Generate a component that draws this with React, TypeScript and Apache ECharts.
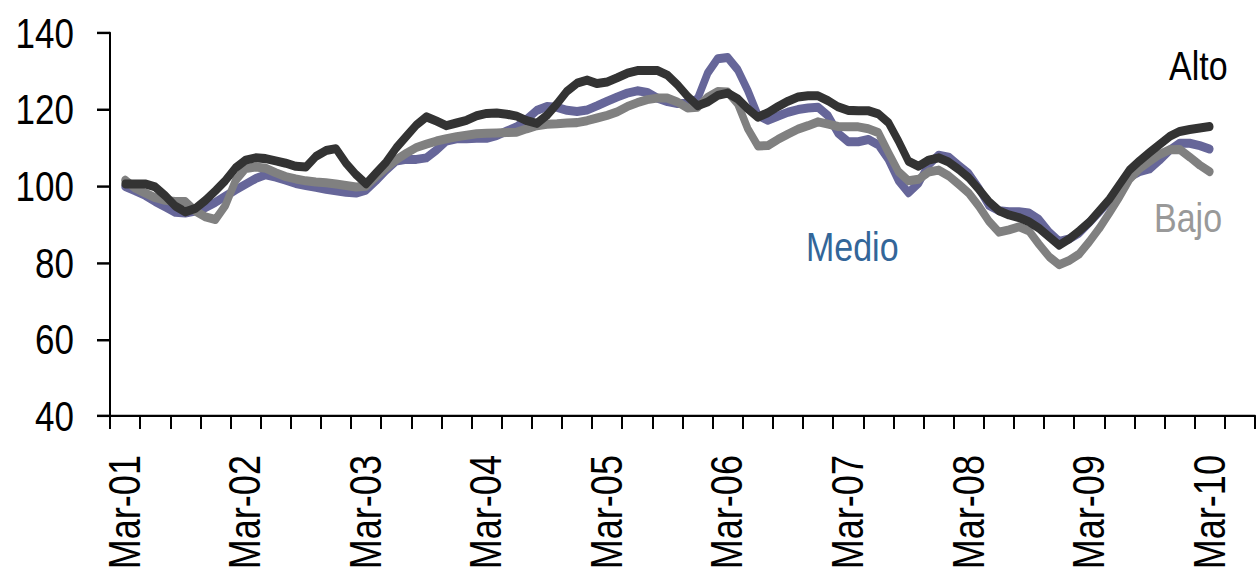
import React, { useEffect, useRef } from "react";
import * as echarts from "echarts";

const MONTHS = ["Jan", "Feb", "Mar", "Apr", "May", "Jun", "Jul", "Aug", "Sep", "Oct", "Nov", "Dec"];
const FIRST_YEAR = 2001;
const FIRST_MONTH_INDEX = 1; // Feb-01 (empty leading category)
const CATEGORY_COUNT = 114;
const LEADING_BLANKS = 1;

const TICK_LABELS = ["Mar-01", "Mar-02", "Mar-03", "Mar-04", "Mar-05", "Mar-06", "Mar-07", "Mar-08", "Mar-09", "Mar-10"];
const Y_TICKS = [40, 60, 80, 100, 120, 140];

// Monthly index values, Mar-01 .. Mar-10
const ALTO = [
  100.6, 100.6, 100.6, 99.8, 97.5, 94.8, 93.3, 94.2, 96.3, 98.8, 101.5, 104.8,
  106.8, 107.4, 107.2, 106.6, 106.0, 105.2, 105.0, 107.8, 109.3, 109.8, 106.0, 103.0,
  100.6, 103.5, 106.3, 110.0, 113.0, 116.0, 118.1, 117.0, 115.8, 116.5, 117.2, 118.4,
  119.0, 119.1, 118.8, 118.3, 117.1, 116.4, 118.5, 121.5, 124.8, 126.9, 127.7, 126.8,
  127.2, 128.3, 129.5, 130.2, 130.2, 130.2, 129.0, 126.5, 123.5, 121.0, 122.0, 123.7,
  124.3, 122.8, 120.2, 118.0, 119.2, 120.8, 122.2, 123.3, 123.6, 123.6, 122.3, 120.7,
  119.8, 119.7, 119.7, 118.9, 116.6, 111.8, 106.5, 105.2, 106.8, 107.4, 106.3, 104.4,
  102.2, 99.2, 96.0, 93.6, 92.5, 91.8, 90.7, 89.0, 86.8, 84.6, 86.2, 88.3,
  90.6, 93.6, 96.6, 100.4, 104.2, 106.6, 108.8, 110.9, 113.0, 114.3, 114.8, 115.2,
  115.6,
];
const MEDIO = [
  99.9, 98.8, 97.6, 96.0, 94.6, 93.2, 93.0, 93.5, 94.4, 95.8, 97.4, 99.0,
  100.5, 102.0, 103.0, 102.4, 101.6, 100.7, 100.2, 99.7, 99.2, 98.8, 98.4, 98.2,
  99.0, 101.5, 104.2, 106.6, 107.0, 107.0, 107.4, 109.4, 111.8, 112.4, 112.4, 112.5,
  112.5, 113.2, 114.4, 115.5, 117.5, 119.8, 120.8, 120.6, 119.8, 119.5, 119.9, 121.0,
  122.2, 123.3, 124.3, 124.9, 124.5, 123.0, 122.1, 121.6, 121.6, 122.8, 129.5, 133.3,
  133.6, 130.4, 125.0, 118.5, 117.2, 118.3, 119.3, 120.0, 120.4, 120.6, 118.4, 113.8,
  111.6, 111.6, 112.2, 110.8, 107.0, 101.5, 98.3, 100.8, 105.6, 108.1, 107.6, 105.4,
  103.3, 99.5, 95.0, 93.6, 93.3, 93.3, 93.0, 91.3, 88.0, 85.6, 86.2, 87.8,
  90.5, 93.3, 96.2, 99.6, 102.4, 103.8, 104.5, 106.8, 109.4, 111.2, 111.2, 110.6,
  109.7,
];
const BAJO = [
  101.6, 99.5, 98.2, 97.0, 96.3, 96.0, 96.0, 93.5, 92.0, 91.3, 95.0, 101.5,
  104.6, 105.0, 104.7, 103.5, 102.5, 101.9, 101.4, 101.1, 100.9, 100.6, 100.2, 99.8,
  100.0, 102.5, 104.8, 106.9, 108.6, 110.1, 111.0, 111.8, 112.4, 112.9, 113.3, 113.7,
  113.8, 113.9, 114.0, 114.1, 115.0, 115.8, 116.2, 116.3, 116.5, 116.6, 117.1, 117.8,
  118.5, 119.4, 120.8, 121.8, 122.6, 123.0, 123.0, 122.0, 120.4, 120.6, 123.2, 124.7,
  124.6, 121.5, 115.0, 110.5, 110.6, 112.2, 113.6, 114.9, 115.8, 116.8, 116.2, 115.6,
  115.5, 115.5, 115.0, 114.0, 108.8, 103.8, 101.4, 101.8, 103.7, 104.2, 102.7, 100.5,
  98.2, 94.8, 90.9, 88.0, 88.6, 89.4, 88.3, 84.8, 81.6, 79.5, 80.6, 82.3,
  85.5, 89.0, 93.0, 97.2, 101.8, 104.6, 106.5, 108.3, 109.5, 109.6, 107.6, 105.5,
  103.8,
];

const SERIES_NAMES = ["Medio", "Bajo", "Alto"];
const SERIES_COLORS = ["#666699", "#808080", "#333333"];
const LABEL_COLORS = ["#336699", "#999999", "#000000"];

const FONT = "'Liberation Sans', Arial, Helvetica, sans-serif";

// The reference uses a narrow face. Horizontal texts are emulated by a layer
// stretched vertically; the rotated month labels by a layer squeezed vertically.
const NARROW = 0.82;
const PAGE_W = 1256;
const PAGE_H = 571;
const GRID_LEFT = 110;
const GRID_TOP = 33;
const GRID_W = 1145;
const GRID_H = 383;

function buildCategories(): string[] {
  const cats: string[] = [];
  for (let i = 0; i < CATEGORY_COUNT; i++) {
    const mi = FIRST_MONTH_INDEX + i;
    const year = FIRST_YEAR + Math.floor(mi / 12);
    const month = MONTHS[mi % 12];
    cats.push(month + "-" + String(year % 100).padStart(2, "0"));
  }
  return cats;
}

function pad(values: number[]): (number | null)[] {
  const out: (number | null)[] = [];
  for (let i = 0; i < LEADING_BLANKS; i++) out.push(null);
  for (const v of values) out.push(v);
  while (out.length < CATEGORY_COUNT) out.push(null);
  return out;
}

const labelFilter = (index: number, value: string) => TICK_LABELS.indexOf(value) >= 0;

export default function App() {
  const mainRef = useRef<HTMLDivElement>(null);
  const labelRef = useRef<HTMLDivElement>(null);
  useEffect(() => {
    if (!mainRef.current || !labelRef.current) return;
    const categories = buildCategories();
    const datasets = [MEDIO, BAJO, ALTO];

    // Main layer: stretched vertically by 1/NARROW
    const k = 1 / NARROW;
    const sy = (v: number) => v / k;
    const main = echarts.init(mainRef.current, undefined, { renderer: "svg" });
    main.setOption({
      animation: false,
      backgroundColor: "#ffffff",
      grid: {
        left: GRID_LEFT,
        top: sy(GRID_TOP),
        width: GRID_W,
        height: sy(GRID_H),
        containLabel: false,
        outerBoundsMode: "none",
      },
      xAxis: {
        type: "category",
        data: categories,
        boundaryGap: true,
        axisLine: { show: true, lineStyle: { color: "#000", width: 2 } },
        axisTick: { show: true, interval: 2, length: sy(13), lineStyle: { color: "#000", width: 2 } },
        axisLabel: { show: false, interval: labelFilter },
        splitLine: { show: false },
      },
      yAxis: {
        type: "value",
        min: Y_TICKS[0],
        max: Y_TICKS[Y_TICKS.length - 1],
        interval: 20,
        axisLine: { show: true, lineStyle: { color: "#000", width: 2 } },
        axisTick: { show: true, length: 13, lineStyle: { color: "#000", width: 2 } },
        axisLabel: { margin: 36, fontFamily: FONT, fontSize: 35, color: "#000" },
        splitLine: { show: false },
      },
      series: SERIES_NAMES.map((name, i) => ({
        name,
        type: "line",
        data: pad(datasets[i]),
        showSymbol: false,
        symbol: "none",
        connectNulls: false,
        lineStyle: { color: SERIES_COLORS[i], width: 7.4, cap: "round", join: "round" },
        z: 2 + i,
      })),
      graphic: [
        {
          type: "text",
          x: 1169,
          y: sy(66),
          style: { text: "Alto", fontFamily: FONT, fontSize: 34, fill: LABEL_COLORS[2], align: "left", verticalAlign: "middle" },
        },
        {
          type: "text",
          x: 806,
          y: sy(247),
          style: { text: "Medio", fontFamily: FONT, fontSize: 34, fill: LABEL_COLORS[0], align: "left", verticalAlign: "middle" },
        },
        {
          type: "text",
          x: 1154,
          y: sy(217.5),
          style: { text: "Bajo", fontFamily: FONT, fontSize: 34, fill: LABEL_COLORS[1], align: "left", verticalAlign: "middle" },
        },
      ],
    });

    // Label layer: squeezed vertically by NARROW (rotated texts become narrow)
    const ly = (v: number) => v / NARROW;
    const labels = echarts.init(labelRef.current, undefined, { renderer: "svg" });
    labels.setOption({
      animation: false,
      grid: {
        left: GRID_LEFT,
        top: ly(GRID_TOP),
        width: GRID_W,
        height: ly(GRID_H),
        containLabel: false,
        outerBoundsMode: "none",
      },
      xAxis: {
        type: "category",
        data: categories,
        boundaryGap: true,
        axisLine: { show: false },
        axisTick: { show: false },
        axisLabel: {
          rotate: 90,
          margin: ly(39),
          interval: labelFilter,
          fontFamily: FONT,
          fontSize: 44,
          color: "#000",
        },
        splitLine: { show: false },
      },
      yAxis: {
        type: "value",
        show: false,
        min: Y_TICKS[0],
        max: Y_TICKS[Y_TICKS.length - 1],
        interval: 20,
        splitLine: { show: false },
      },
      series: [],
    });

    return () => {
      main.dispose();
      labels.dispose();
    };
  }, []);
  return (
    <div
      style={{ position: "absolute", left: 0, top: 0, width: PAGE_W, height: PAGE_H, overflow: "hidden", background: "#fff" }}
    >
      <div
        ref={mainRef}
        style={{
          position: "absolute",
          left: 0,
          top: 0,
          width: PAGE_W,
          height: PAGE_H * NARROW,
          transform: `scaleY(${1 / NARROW})`,
          transformOrigin: "0 0",
        }}
      />
      <div
        ref={labelRef}
        style={{
          position: "absolute",
          left: 0,
          top: 0,
          width: PAGE_W,
          height: PAGE_H / NARROW,
          transform: `scaleY(${NARROW})`,
          transformOrigin: "0 0",
          pointerEvents: "none",
        }}
      />
    </div>
  );
}
